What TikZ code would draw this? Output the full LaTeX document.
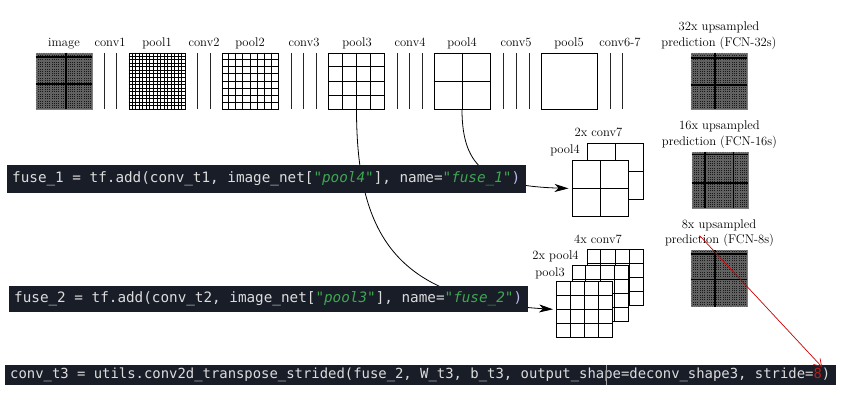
\documentclass[tikz,border=0pt]{standalone}
\usepackage{fontspec}
\usetikzlibrary{calc,arrows.meta}
\newfontfamily\codefont{DejaVu Sans Mono}[ItalicFont={DejaVu Sans Mono Oblique}]
\definecolor{codebg}{HTML}{181D28}
\definecolor{codefg}{HTML}{DCDCDC}
\definecolor{codegreen}{HTML}{3FA652}
\definecolor{codered}{HTML}{B81C16}
\definecolor{arrowred}{HTML}{CC0000}
\definecolor{parencol}{HTML}{B9B9EC}
\newcommand\strg[1]{{\color{codegreen}\itshape #1}}
\newcommand\spc{\char32\relax}
\newcommand\sqgrid[2]{%
  \pgfmathtruncatemacro\gm{#2-1}%
  \foreach \k in {1,...,\gm}{%
    \draw[gridline] ($(#1.north west)!\k/#2!(#1.north east)$) -- ($(#1.south west)!\k/#2!(#1.south east)$);
    \draw[gridline] ($(#1.north west)!\k/#2!(#1.south west)$) -- ($(#1.north east)!\k/#2!(#1.south east)$);
  }}
\newcommand\densegrid[1]{%
  \foreach \k in {1,...,31}{%
    \draw[fineline] ($(#1.north west)!\k/32!(#1.north east)$) -- ($(#1.south west)!\k/32!(#1.south east)$);
    \draw[fineline] ($(#1.north west)!\k/32!(#1.south west)$) -- ($(#1.north east)!\k/32!(#1.south east)$);
  }}
\newcommand\thickv[2]{\draw[thickline] ($(#1.north west)!#2!(#1.north east)$) -- ($(#1.south west)!#2!(#1.south east)$);}
\newcommand\thickh[2]{\draw[thickline] ($(#1.north west)!#2!(#1.south west)$) -- ($(#1.north east)!#2!(#1.south east)$);}
\tikzset{
  sq/.style={draw=black, line width=0.9pt, fill=white, minimum size=56pt, inner sep=0pt},
  darksq/.style={draw=black!50, line width=0.8pt, fill=black!90, minimum size=56pt, inner sep=0pt},
  gridline/.style={black, line width=0.8pt},
  fineline/.style={black!62, line width=0.25pt},
  thickline/.style={black, line width=1.6pt},
  convline/.style={black!85, line width=0.9pt},
  lbl/.style={font=\fontsize{12.6}{14}\selectfont, inner sep=0pt, anchor=base},
  codebox/.style={fill=codebg, text=codefg, anchor=west, inner xsep=5pt, inner ysep=0pt, align=left},
  flow/.style={black, line width=0.8pt, -{Stealth[length=14pt,width=8pt,inset=4pt]}, shorten >=3pt},
  redarrow/.style={arrowred, line width=0.7pt, -{Straight Barb[length=7pt,width=9pt]}}
}
\begin{document}
\begin{tikzpicture}[x=1pt,y=-1pt]
\useasboundingbox (0,0) rectangle (841,404);
\fill[white] (0,0) rectangle (841,404);

% ---- top row labels
\node[lbl] (Limage) at (64,47) {image};
\node[lbl] (Lc1) at (110,47) {conv1};
\node[lbl] (Lp1) at (157,47) {pool1};
\node[lbl] (Lc2) at (204,47) {conv2};
\node[lbl] (Lp2) at (250,47) {pool2};
\node[lbl] (Lc3) at (304,47) {conv3};
\node[lbl] (Lp3) at (357,47) {pool3};
\node[lbl] (Lc4) at (410,47) {conv4};
\node[lbl] (Lp4) at (462,47) {pool4};
\node[lbl] (Lc5) at (516,47) {conv5};
\node[lbl] (Lp5) at (569,47) {pool5};
\node[lbl] (Lc67) at (620,47) {conv6-7};
\node[lbl] (L32a) at (719,31) {32x upsampled};
\node[lbl] (L32b) at (719,47) {prediction (FCN-32s)};

% ---- top row squares
\node[darksq] (image) at (64,81) {};
\densegrid{image}
\thickv{image}{0.54}\thickh{image}{0.08}\thickh{image}{0.55}
\node[sq] (pool1) at (157,81) {};
\sqgrid{pool1}{16}
\node[sq] (pool2) at (250,81) {};
\sqgrid{pool2}{8}
\node[sq] (pool3) at (356.5,81) {};
\sqgrid{pool3}{4}
\node[sq] (pool4) at (462,81) {};
\sqgrid{pool4}{2}
\node[sq] (pool5) at (569,81) {};
\node[darksq] (fcn32) at (719,81) {};
\densegrid{fcn32}
\thickv{fcn32}{0.43}\thickh{fcn32}{0.09}\thickh{fcn32}{0.57}

% ---- conv layers (vertical bars)
\foreach \x in {104,116,197,210,291,303,316,397,409,422,503,516,529,610,622}
  \draw[convline] (\x,53) -- (\x,109);

% ---- FCN-16s branch
\node[lbl] (L2c7) at (598.5,136) {2x conv7};
\node[lbl] (Lp4b) at (565,153) {pool4};
\node[sq] (s2a) at (615,171.5) {};
\sqgrid{s2a}{2}
\node[sq] (s2b) at (600,188.5) {};
\sqgrid{s2b}{2}
\node[lbl] (L16a) at (719.5,129) {16x upsampled};
\node[lbl] (L16b) at (719.5,145) {prediction (FCN-16s)};
\node[darksq] (fcn16) at (720,180) {};
\densegrid{fcn16}
\thickv{fcn16}{0.24}\thickv{fcn16}{0.74}\thickh{fcn16}{0.05}\thickh{fcn16}{0.55}

% ---- FCN-8s branch
\node[lbl] (L4c7) at (598,243) {4x conv7};
\node[lbl] (L2p4) at (555.5,259) {2x pool4};
\node[lbl] (Lp3b) at (550,276) {pool3};
\node[sq] (s4a) at (615,277.5) {};
\sqgrid{s4a}{4}
\node[sq] (s4b) at (600,293.5) {};
\sqgrid{s4b}{4}
\node[sq] (s4c) at (584.5,309.5) {};
\sqgrid{s4c}{4}
\node[lbl] (L8a) at (719,228) {8x upsampled};
\node[lbl] (L8b) at (719.5,243) {prediction (FCN-8s)};
\node[darksq] (fcn8) at (719,278.5) {};
\densegrid{fcn8}
\thickv{fcn8}{0.43}\thickh{fcn8}{0.07}\thickh{fcn8}{0.52}

% ---- skip connections
\draw[flow] (pool4.south) .. controls (462,170) and (490,186) .. (s2b.west);
\draw[flow] (pool3.south) .. controls (356.5,240) and (400,300) .. (s4c.west);

% ---- code boxes
\node[codebox, text width=509pt, minimum height=28pt, font=\codefont\fontsize{14.3}{16}\selectfont] (fuse1) at (7,179)
  {fuse\_1\spc=\spc tf.add(conv\_t1,\spc image\_net[\strg{"pool4"}],\spc name=\strg{"fuse\_1"}{\color{parencol})}};
\node[codebox, text width=509pt, minimum height=26pt, font=\codefont\fontsize{14.3}{16}\selectfont] (fuse2) at (9,299)
  {fuse\_2\spc=\spc tf.add(conv\_t2,\spc image\_net[\strg{"pool3"}],\spc name=\strg{"fuse\_2"}{\color{parencol})}};
\node[codebox, text width=821pt, minimum height=20pt, font=\codefont\fontsize{13.9}{15}\selectfont] (ct3) at (5,375)
  {conv\_t3\spc=\spc utils.conv2d\_transpose\_strided(fuse\_2,\spc W\_t3,\spc b\_t3,\spc output\_shape=deconv\_shape3,\spc stride={\color{codered}8})};
\coordinate (cur) at (606,375);
\draw[gray!70, line width=0.6pt] (cur |- ct3.north) -- (cur |- ct3.south);

% ---- red annotation arrow
\coordinate (rs) at (700,236);
\coordinate (re) at (822,367);
\draw[redarrow] (rs) -- (re);
\end{tikzpicture}
\end{document}
